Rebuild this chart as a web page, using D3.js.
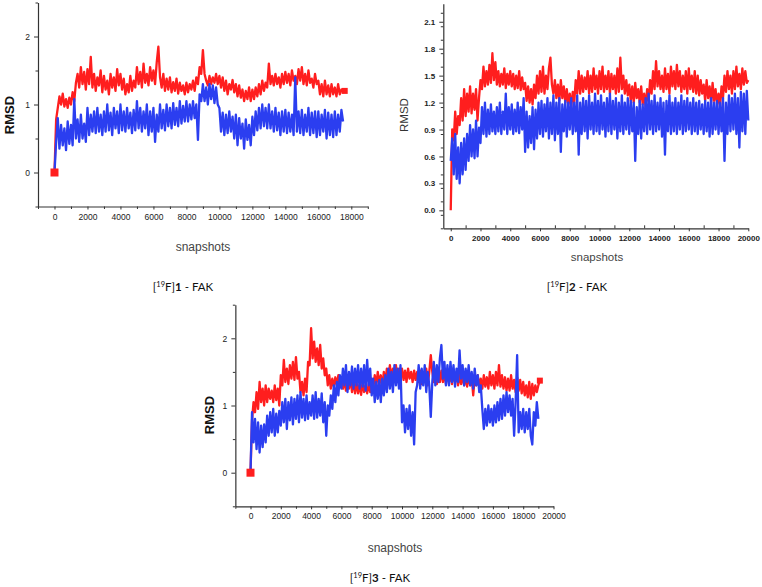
<!DOCTYPE html>
<html><head><meta charset="utf-8">
<script src="https://cdn.jsdelivr.net/npm/d3@7"></script>
<style>body{margin:0;background:#fff}svg{display:block}</style>
</head><body>
<script>
const STEP = 100;
const p1Red = [0,0.78,0.95,1.12,1.0,1.16,0.97,1.08,0.95,1.1,
1.0,1.18,1.05,1.32,1.45,1.25,1.55,1.3,1.48,1.22,
1.52,1.3,1.7,1.25,1.45,1.2,1.4,1.28,1.5,1.18,
1.42,1.22,1.35,1.15,1.45,1.25,1.4,1.2,1.52,1.28,
1.45,1.22,1.38,1.15,1.3,1.18,1.42,1.2,1.35,1.25,
1.55,1.3,1.48,1.25,1.6,1.32,1.45,1.28,1.55,1.35,
1.5,1.3,1.62,1.85,1.4,1.25,1.45,1.2,1.38,1.22,
1.4,1.18,1.33,1.2,1.38,1.16,1.32,1.2,1.28,1.15,
1.32,1.18,1.3,1.22,1.35,1.2,1.4,1.3,1.55,1.45,
1.8,1.45,1.35,1.28,1.42,1.3,1.4,1.32,1.45,1.3,
1.42,1.25,1.4,1.2,1.35,1.15,1.3,1.22,1.36,1.18,
1.3,1.12,1.28,1.1,1.22,1.05,1.2,1.08,1.25,1.05,
1.22,1.08,1.25,1.12,1.3,1.15,1.35,1.2,1.32,1.25,
1.6,1.3,1.42,1.28,1.45,1.3,1.4,1.25,1.45,1.3,
1.48,1.32,1.45,1.28,1.5,1.35,1.42,1.3,1.52,1.35,
1.55,1.3,1.45,1.28,1.5,1.32,1.38,1.25,1.45,1.3,
1.35,1.15,1.3,1.12,1.35,1.15,1.28,1.12,1.3,1.15,
1.25,1.12,1.3,1.15,1.22,1.18,1.2];
const p1Blue = [0,0.45,0.8,0.35,0.7,0.4,0.65,0.33,0.75,0.42,
0.7,0.4,1.08,0.5,0.78,0.45,0.85,0.5,0.72,0.45,
0.95,0.55,0.85,0.6,0.9,0.58,0.95,0.6,0.85,0.55,
0.9,0.6,1.0,0.62,0.88,0.55,0.95,0.65,0.9,0.58,
1.0,0.62,0.9,0.6,0.95,0.65,0.88,0.58,0.92,0.62,
1.05,0.65,0.95,0.6,0.9,0.65,1.0,0.55,0.9,0.6,
0.95,0.45,0.85,0.6,1.0,0.65,0.92,0.62,1.0,0.68,
0.95,0.65,1.02,0.7,0.95,0.68,1.05,0.72,0.98,0.75,
1.05,0.75,1.0,0.78,1.05,0.8,1.0,0.48,1.15,1.05,
1.3,1.05,1.25,1.0,1.3,1.08,1.28,1.02,1.25,1.0,
0.95,0.6,0.88,0.55,0.85,0.58,0.9,0.6,0.82,0.5,
0.85,0.4,0.8,0.5,0.72,0.35,0.78,0.48,0.7,0.4,
0.82,0.55,0.9,0.62,0.95,0.65,1.0,0.68,0.95,0.65,
1.0,0.65,0.9,0.6,0.95,0.62,0.88,0.55,0.9,0.6,
0.92,0.58,0.88,0.6,0.85,0.55,1.4,0.6,0.9,0.58,
0.92,0.55,0.85,0.6,0.95,0.55,0.88,0.58,0.9,0.52,
0.9,0.55,0.85,0.6,0.92,0.5,0.88,0.55,0.85,0.52,
0.9,0.55,0.85,0.6,0.92,0.75];
const p2Red = [0,0.9,0.78,1.1,0.85,1.05,0.95,1.25,1.0,1.35,
1.05,1.3,1.1,1.38,1.08,1.3,1.12,1.35,1.0,1.25,
1.45,1.35,1.6,1.38,1.55,1.4,1.62,1.42,1.75,1.45,
1.65,1.4,1.55,1.38,1.52,1.4,1.58,1.36,1.52,1.4,
1.55,1.38,1.52,1.35,1.5,1.36,1.55,1.34,1.48,1.35,
1.42,1.22,1.38,1.2,1.35,1.18,1.4,1.25,1.5,1.3,
1.55,1.32,1.6,1.3,1.5,1.35,1.58,1.7,1.4,1.3,
1.45,1.25,1.4,1.22,1.45,1.25,1.38,1.2,1.35,1.18,
1.3,1.15,1.32,1.2,1.45,1.3,1.55,1.3,1.5,1.32,
1.48,1.35,1.55,1.3,1.5,1.32,1.58,1.35,1.5,1.3,
1.55,1.35,1.6,1.32,1.5,1.35,1.55,1.3,1.52,1.35,
1.5,1.3,1.58,1.32,1.7,1.35,1.5,1.3,1.45,1.28,
1.4,1.22,1.38,1.2,1.42,1.25,1.35,1.2,1.38,1.18,
1.3,1.15,1.35,1.22,1.45,1.3,1.55,1.35,1.66,1.38,
1.55,1.35,1.5,1.32,1.58,1.35,1.52,1.3,1.6,1.38,
1.55,1.35,1.62,1.38,1.55,1.32,1.5,1.35,1.55,1.3,
1.58,1.35,1.5,1.32,1.55,1.3,1.5,1.28,1.45,1.3,
1.4,1.22,1.45,1.25,1.38,1.2,1.42,1.22,1.35,1.18,
1.3,1.15,1.38,1.25,1.5,1.32,1.55,1.35,1.5,1.3,
1.55,1.35,1.6,1.38,1.52,1.35,1.58,1.4,1.55,1.42,
1.45];
const p2Blue = [0.55,0.8,0.4,0.85,0.35,0.7,0.3,0.75,0.4,0.8,
0.45,0.85,0.55,0.95,0.6,0.9,0.58,1.0,0.6,0.92,
0.75,1.15,0.85,1.2,0.82,1.12,0.85,1.18,0.88,1.1,
0.85,1.15,0.88,1.2,0.85,1.1,0.9,1.3,0.85,1.15,
0.9,1.18,0.85,1.12,0.88,1.2,0.86,1.15,0.9,1.25,
0.65,1.1,0.7,1.05,0.75,1.15,0.68,1.12,0.8,1.2,
0.85,1.22,0.82,1.18,0.88,1.25,0.8,1.2,0.85,1.28,
0.78,1.2,0.85,1.25,0.65,1.18,0.88,1.22,0.82,1.2,
0.9,1.25,0.85,1.2,0.88,1.28,0.62,1.2,0.85,1.25,
0.88,1.22,0.8,1.28,0.9,1.2,0.85,1.3,0.88,1.22,
0.85,1.28,0.9,1.2,0.82,1.25,0.88,1.3,0.85,1.22,
0.9,1.25,0.8,1.2,0.88,1.28,0.85,1.2,0.9,1.25,
0.85,1.22,0.88,1.2,0.55,1.15,0.85,1.22,0.8,1.18,
0.88,1.25,0.85,1.3,0.9,1.22,0.85,1.28,0.88,1.2,
0.9,1.25,0.82,1.2,0.62,1.22,0.88,1.28,0.85,1.2,
0.88,1.25,0.85,1.2,0.9,1.28,0.85,1.22,0.88,1.25,
0.9,1.2,0.85,1.25,0.88,1.2,0.85,1.22,0.9,1.18,
0.85,1.22,0.88,1.2,0.82,1.25,0.85,1.2,0.9,1.22,
0.85,1.2,0.88,1.25,0.55,1.2,0.85,1.28,0.88,1.25,
0.9,1.3,0.85,1.25,0.7,1.32,0.88,1.3,0.85,1.33,
1.0];
const p3Red = [0,0.78,1.05,0.9,1.2,0.95,1.35,1.05,1.25,1.0,
1.3,1.05,1.25,1.1,1.22,1.05,1.3,1.08,1.25,1.0,
1.45,1.3,1.68,1.35,1.55,1.32,1.6,1.4,1.65,1.38,
1.72,1.4,1.5,1.2,1.35,1.15,1.4,1.2,1.65,1.6,
2.15,1.7,1.95,1.65,1.85,1.6,1.9,1.55,1.7,1.45,
1.55,1.3,1.45,1.25,1.4,1.28,1.42,1.3,1.45,1.32,
1.42,1.25,1.38,1.22,1.4,1.25,1.42,1.2,1.38,1.18,
1.35,1.18,1.32,1.16,1.35,1.2,1.3,1.18,1.32,1.2,
1.4,1.25,1.45,1.3,1.5,1.32,1.45,1.28,1.5,1.35,
1.55,1.38,1.6,1.4,1.55,1.42,1.6,1.38,1.55,1.4,
1.55,1.38,1.52,1.35,1.55,1.4,1.5,1.35,1.52,1.38,
1.5,1.35,1.52,1.32,1.5,1.35,1.55,1.3,1.5,1.75,
1.5,1.35,1.48,1.32,1.5,1.35,1.52,1.35,1.5,1.32,
1.5,1.35,1.45,1.32,1.48,1.35,1.45,1.3,1.45,1.32,
1.45,1.3,1.42,1.28,1.45,1.3,1.42,1.15,1.42,1.3,
1.45,1.28,1.4,1.25,1.45,1.28,1.42,1.25,1.5,1.3,
1.45,1.25,1.5,1.3,1.6,1.28,1.45,1.25,1.42,1.22,
1.4,1.22,1.45,1.25,1.38,1.2,1.42,1.22,1.38,1.18,
1.35,1.15,1.3,1.12,1.35,1.1,1.32,1.15,1.3,1.2,
1.3,1.37];
const p3Blue = [0,0.9,0.45,0.8,0.35,0.75,0.3,0.7,0.38,0.72,
0.45,0.85,0.55,0.9,0.6,0.95,0.55,0.88,0.6,0.92,
0.7,1.05,0.75,1.1,0.65,1.05,0.78,1.12,0.72,1.1,
0.8,1.15,0.75,1.2,0.82,1.1,0.78,1.15,0.8,1.05,
0.85,1.15,0.8,1.2,0.82,1.1,0.85,1.18,0.75,1.05,
0.55,1.0,0.85,1.15,0.95,1.3,1.05,1.35,1.15,1.45,
1.25,1.55,1.3,1.6,1.2,1.5,1.3,1.58,1.25,1.55,
1.3,1.6,1.25,1.55,1.28,1.6,1.22,1.68,1.3,1.55,
1.15,1.4,1.05,1.35,1.1,1.38,1.05,1.4,1.15,1.45,
1.2,1.55,1.25,1.5,1.2,1.6,1.3,1.55,1.25,1.6,
0.75,1.0,0.6,0.95,0.65,1.0,0.55,0.9,0.42,1.2,
1.3,1.6,1.25,1.55,1.3,1.6,1.2,1.5,1.3,0.83,
1.35,1.65,1.3,1.6,1.35,1.7,1.9,1.4,1.65,1.3,
1.6,1.3,1.65,1.35,1.6,1.28,1.55,1.35,1.82,1.4,
1.6,1.3,1.55,1.35,1.6,1.3,1.5,1.25,1.55,1.3,
1.45,1.2,1.3,0.95,0.65,0.95,0.7,1.0,0.75,0.95,
0.7,1.0,0.75,1.05,0.78,1.1,0.8,1.15,0.85,1.2,
0.9,1.15,0.85,1.1,0.55,1.05,1.75,0.6,0.9,0.65,
0.95,0.6,0.9,0.65,0.95,0.55,0.42,0.9,0.7,1.05,
0.8];

const p1XLabels = [0,2000,4000,6000,8000,10000,12000,14000,16000,18000];
const p2XLabels = [0,2000,4000,6000,8000,10000,12000,14000,16000,18000,20000];
const p3XLabels = [0,2000,4000,6000,8000,10000,12000,14000,16000,18000,20000];
const p1YLabels = [0,1,2];
const p2YLabels = [0.0,0.3,0.6,0.9,1.2,1.5,1.8,2.1];
const p3YLabels = [0,1,2];

// ---- LAYOUT ----
const W = 762, H = 587;
const RED = "#ff1e1e", BLUE = "#2b3ef0";
const svg = d3.select("body").append("svg").attr("width", W).attr("height", H);

const panels = [
  {red:p1Red, blue:p1Blue, xd:[-1000,19000], xr:[38,367.8], yd:[-0.5,2.5], yr:[206.5,2.5],
   xl:p1XLabels, yl:p1YLabels, yMinorStep:0.5, yfmt:d3.format("d"), bold:false, markers:true,
   rmsd:{x:11,y:115,size:13,weight:"bold",fill:"#111"}, snap:{x:203,y:251,size:12},
   cap:{x:183,y:291,num:"1"}},
  {red:p2Red, blue:p2Blue, xd:[-500,20000], xr:[443.3,748.3], yd:[-0.2,2.3], yr:[228.3,3.8],
   xl:p2XLabels, yl:p2YLabels, yMinorStep:0.15, yfmt:d3.format(".1f"), bold:true, markers:false,
   rmsd:{x:405,y:115,size:11.5,weight:"normal",fill:"#333"}, snap:{x:597,y:261,size:11.5},
   cap:{x:577,y:291,num:"2"}},
  {red:p3Red, blue:p3Blue, xd:[-1000,20000], xr:[235.35,553.5], yd:[-0.5,2.5], yr:[506.3,304.7],
   xl:p3XLabels, yl:p3YLabels, yMinorStep:0.5, yfmt:d3.format("d"), bold:false, markers:true,
   rmsd:{x:211,y:415,size:13,weight:"bold",fill:"#111"}, snap:{x:395,y:552,size:12},
   cap:{x:380,y:582,num:"3"}}
];

panels.forEach(p => {
  const x = d3.scaleLinear().domain(p.xd).range(p.xr);
  const y = d3.scaleLinear().domain(p.yd).range(p.yr);
  const g = svg.append("g");
  const line = d3.line().x((d,i)=>x(i*STEP)).y(d=>y(d));
  g.append("path").datum(p.red).attr("d", line).attr("fill","none")
    .attr("stroke",RED).attr("stroke-width",2.3).attr("stroke-linejoin","round");
  g.append("path").datum(p.blue).attr("d", line).attr("fill","none")
    .attr("stroke",BLUE).attr("stroke-width",2.3).attr("stroke-linejoin","round");
  if (p.markers) {
    const first = p.red[0], lastI = p.red.length-1;
    g.append("rect").attr("x", x(0)-4).attr("y", y(first)-4).attr("width",8).attr("height",8).attr("fill",RED);
    g.append("rect").attr("x", x(lastI*STEP)-3).attr("y", y(p.red[lastI])-3).attr("width",6).attr("height",6).attr("fill",RED);
  }
  // axes
  const yBase = p.yr[0], xBase = p.xr[0];
  const minorX = d3.range(p.xd[0] < 0 ? Math.ceil(p.xd[0]/1000)*1000 : 0, p.xd[1]+1, 1000).filter(v=>v%2000!==0);
  g.append("g").attr("transform",`translate(0,${yBase})`)
    .call(d3.axisBottom(x).tickValues(p.xl).tickFormat(d3.format("d")).tickSize(3).tickSizeOuter(0).tickPadding(4));
  g.append("g").attr("transform",`translate(0,${yBase})`)
    .call(d3.axisBottom(x).tickValues(minorX).tickSize(p.bold?-3:2.5).tickFormat("").tickSizeOuter(0))
    .select(".domain").remove();
  const minorY = [];
  for (let v = p.yd[0]; v <= p.yd[1]+1e-9; v += p.yMinorStep) {
    const r = Math.round(v*100)/100;
    if (!p.yl.some(t=>Math.abs(t-r)<1e-6)) minorY.push(r);
  }
  g.append("g").attr("transform",`translate(${xBase},0)`)
    .call(d3.axisLeft(y).tickValues(p.yl).tickFormat(p.yfmt).tickSize(4).tickSizeOuter(0).tickPadding(4));
  g.append("g").attr("transform",`translate(${xBase},0)`)
    .call(d3.axisLeft(y).tickValues(minorY).tickSize(2.5).tickFormat("").tickSizeOuter(0))
    .select(".domain").remove();
  g.selectAll(".domain").attr("stroke","#333").attr("stroke-width",1.2);
  g.selectAll(".tick line").attr("stroke","#333");
  g.selectAll(".tick text").attr("fill","#222")
    .style("font-family","'Liberation Sans', Arial, sans-serif")
    .style("font-size", p.bold ? "8px" : "8.5px")
    .style("font-weight", p.bold ? "bold" : "normal");
  // titles
  g.append("text").attr("transform",`translate(${p.rmsd.x},${p.rmsd.y}) rotate(-90)`)
    .attr("text-anchor","middle").attr("dominant-baseline","middle")
    .style("font-family","'Liberation Sans', Arial, sans-serif")
    .style("font-size",p.rmsd.size+"px").style("font-weight",p.rmsd.weight)
    .attr("fill",p.rmsd.fill).text("RMSD");
  g.append("text").attr("x",p.snap.x).attr("y",p.snap.y).attr("text-anchor","middle")
    .style("font-family","'Liberation Sans', Arial, sans-serif")
    .style("font-size",p.snap.size+"px").attr("fill","#444").text("snapshots");
  const cap = g.append("text").attr("x",p.cap.x).attr("y",p.cap.y).attr("text-anchor","middle")
    .style("font-family","Lato, 'Open Sans', sans-serif").style("font-size","11.5px").attr("fill","#111");
  cap.append("tspan").text("[");
  cap.append("tspan").attr("dy",-4).style("font-size","7.5px").text("19");
  cap.append("tspan").attr("dy",4).text("F]");
  cap.append("tspan").style("font-weight","bold").text(p.cap.num);
  cap.append("tspan").text(" - FAK");
});
</script>
</body></html>
